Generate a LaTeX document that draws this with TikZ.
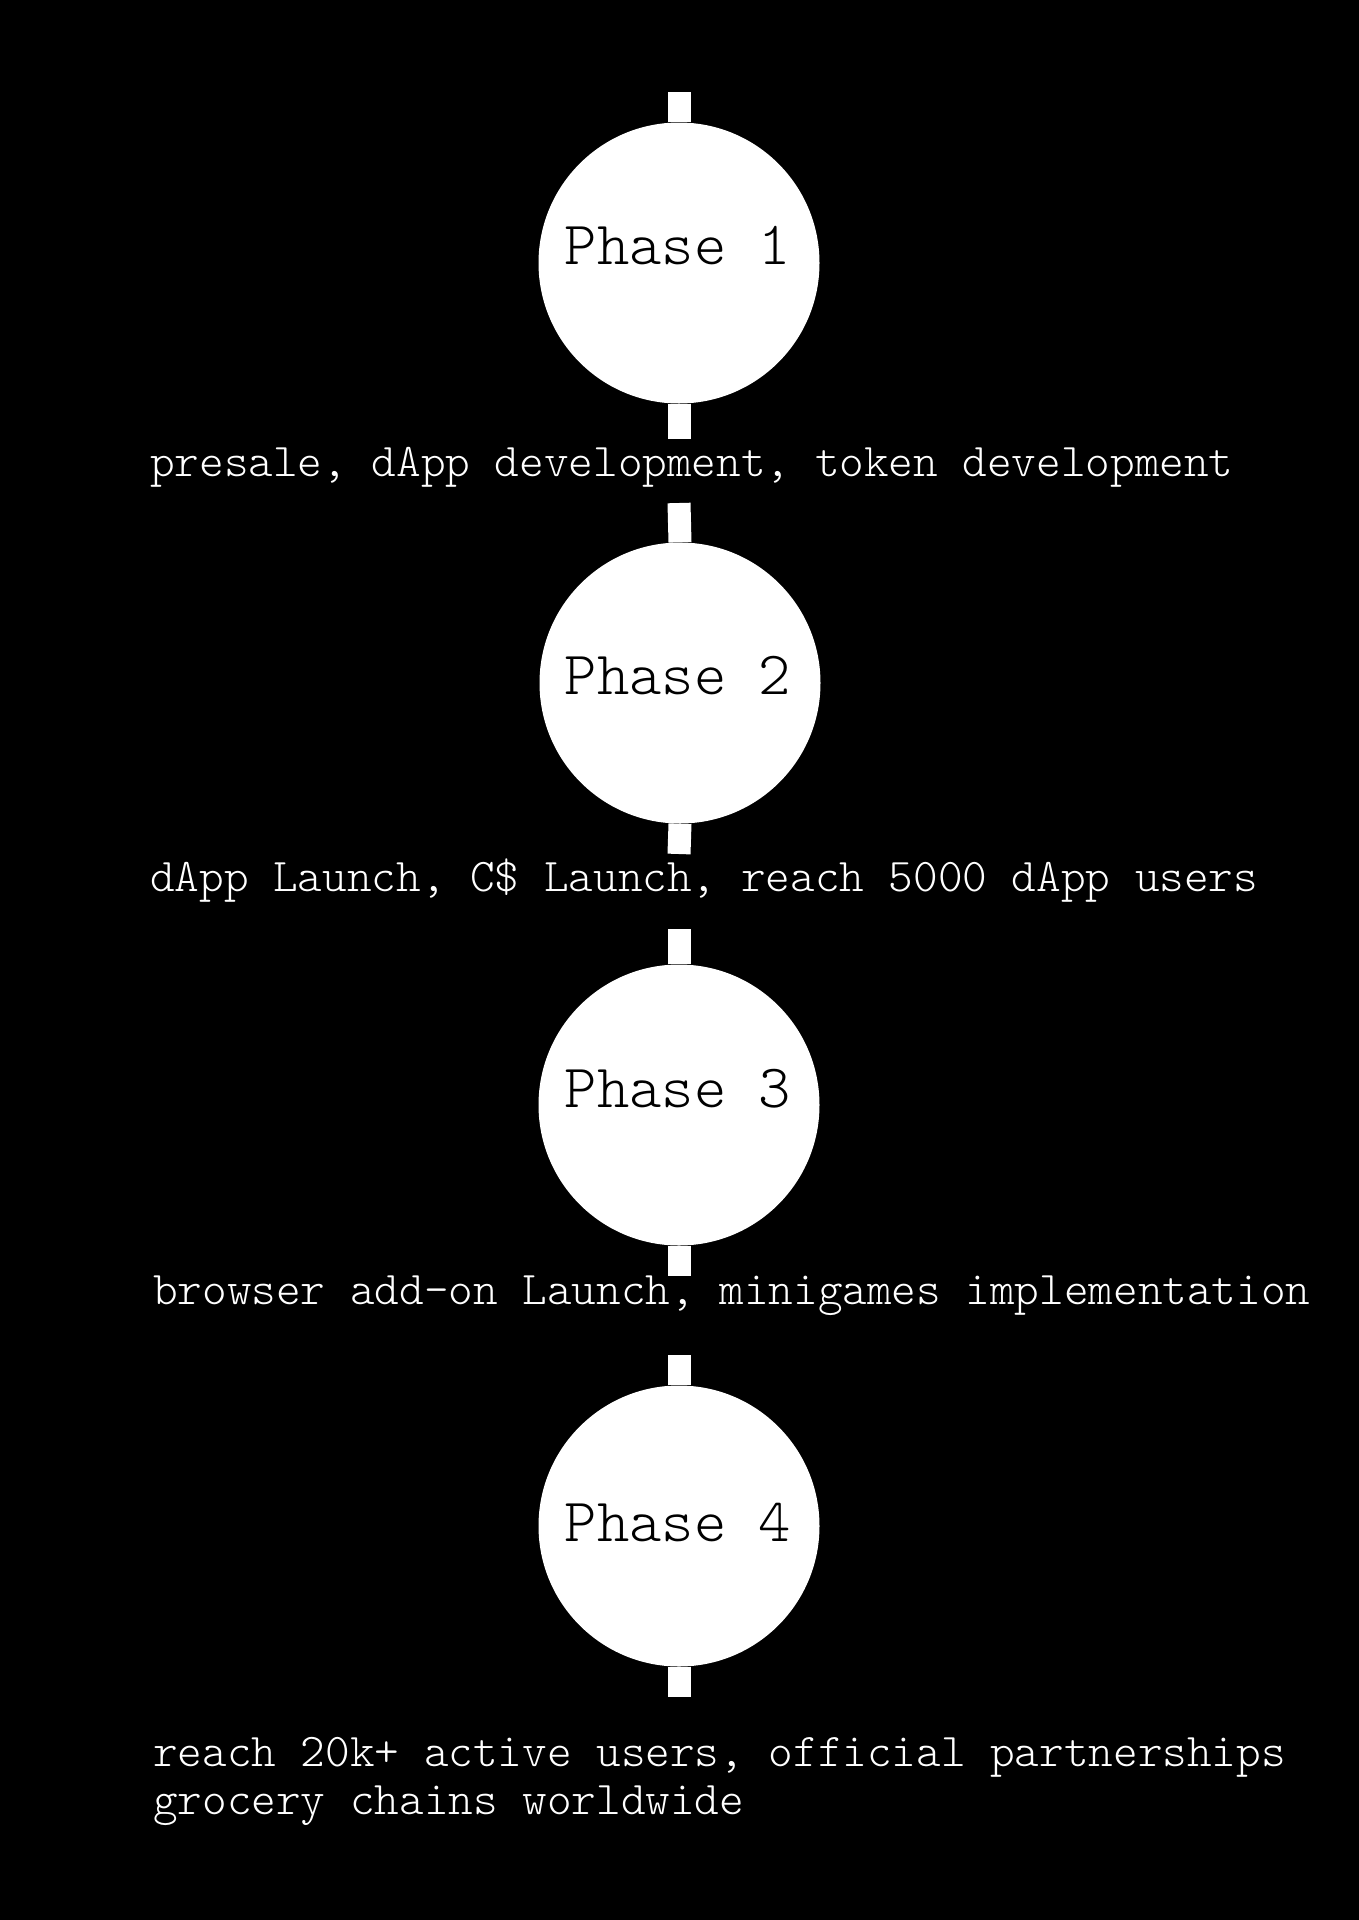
\documentclass[tikz,border=0pt]{standalone}
\usepackage{fontspec}
\setmonofont{Latin Modern Mono Light}
\begin{document}
\begin{tikzpicture}[x=1pt,y=-1pt,
  phase/.style={circle,fill=white,draw=none,minimum size=281pt,inner sep=0pt},
  phaselabel/.style={anchor=base,inner sep=0pt,text=black,font=\ttfamily\fontsize{61.5}{66}\selectfont},
  desc/.style={anchor=base west,inner sep=0pt,text=white,align=left,font=\ttfamily\fontsize{46.9}{48}\selectfont},
  stub/.style={draw=white,line width=23pt,line cap=butt}]
\fill[black] (0,0) rectangle (1359,1920);
\useasboundingbox (0,0) rectangle (1359,1920);
% circles
\node[phase] (c1) at (679,263) {};
\node[phase] (c2) at (680,683) {};
\node[phase] (c3) at (679,1105) {};
\node[phase] (c4) at (679,1526) {};
% stub end points
\coordinate (t1) at (679,92);
\coordinate (b1) at (679,439);
\coordinate (t2) at (679,503);
\coordinate (b2) at (679,854);
\coordinate (t3) at (679,929);
\coordinate (b3) at (679,1276);
\coordinate (t4) at (679,1355);
\coordinate (b4) at (679,1697);
\draw[stub] (c1.north) -- (t1);
\draw[stub] (c1.south) -- (b1);
\draw[stub] (c2.north) -- (t2);
\draw[stub] (c2.south) -- (b2);
\draw[stub] (c3.north) -- (t3);
\draw[stub] (c3.south) -- (b3);
\draw[stub] (c4.north) -- (t4);
\draw[stub] (c4.south) -- (b4);
% phase labels
\node[phaselabel] (l1) at (678,264) {Phase 1};
\node[phaselabel] (l2) at (678,694) {Phase 2};
\node[phaselabel] (l3) at (678,1107) {Phase 3};
\node[phaselabel] (l4) at (678,1541) {Phase 4};
% descriptions
\node[desc] (d1) at (150,476) {presale, dApp development, token development};
\node[desc] (d2) at (150,891) {dApp Launch, C\$ Launch, reach 5000 dApp users};
\node[desc] (d3) at (153,1304) {browser add-on Launch, minigames implementation};
\node[desc] (d4) at (153,1814) {reach 20k+ active users, official partnerships\\grocery chains worldwide};
\end{tikzpicture}
\end{document}
